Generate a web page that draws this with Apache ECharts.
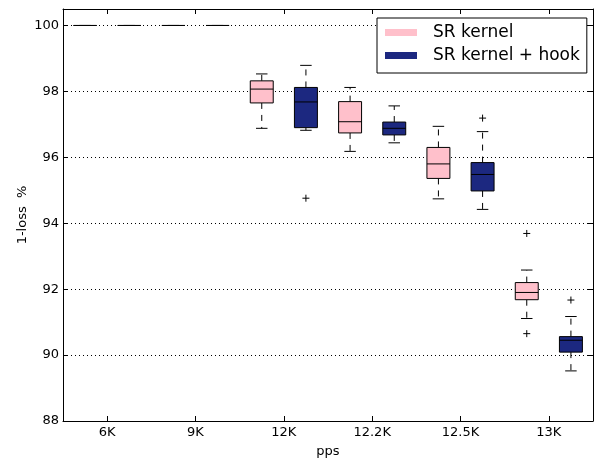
<!DOCTYPE html>
<html>
<head>
<meta charset="utf-8">
<script src="https://cdn.jsdelivr.net/npm/echarts@6/dist/echarts.min.js"></script>
<style>
html,body{margin:0;padding:0;background:#fff;}
#chart{width:595px;height:459px;}
</style>
</head>
<body>
<div id="chart"></div>
<script>
// ---- data (min, Q1, median, Q3, max) ----
const categories = ['6K', '9K', '12K', '12.2K', '12.5K', '13K'];
const srKernel = [
  [100, 100, 100, 100, 100],
  [100, 100, 100, 100, 100],
  [96.88, 97.65, 98.07, 98.32, 98.53],
  [96.18, 96.74, 97.08, 97.69, 98.12],
  [94.74, 95.36, 95.80, 96.30, 96.94],
  [91.11, 91.68, 91.90, 92.20, 92.58]
];
const srKernelHook = [
  [100, 100, 100, 100, 100],
  [100, 100, 100, 100, 100],
  [96.82, 96.90, 97.68, 98.12, 98.79],
  [96.44, 96.68, 96.88, 97.07, 97.56],
  [94.42, 94.98, 95.48, 95.84, 96.78],
  [89.52, 90.09, 90.45, 90.56, 91.17]
];
// outliers: [category index, value]
const srKernelOutliers = [[5, 93.69], [5, 90.65]];
const srKernelHookOutliers = [[2, 94.76], [4, 97.19], [5, 91.67]];
const yTicks = [88, 90, 92, 94, 96, 98, 100];

const PINK = '#ffc0cb';
const NAVY = '#1c2880';
const FONT = 'DejaVu Sans';

function boxRender(sign, fill) {
  return function (params, api) {
    const i = api.value(0);
    const band = api.size([1, 0])[0];
    const cx = api.coord([i, api.value(3)])[0] + sign * band * 0.25;
    const w = band * 0.26;
    const y = k => api.coord([i, api.value(k)])[1];
    const ymn = y(1), yq1 = y(2), ymd = y(3), yq3 = y(4), ymx = y(5);
    const ln = (x1, y1, x2, y2, dash) => ({
      type: 'line',
      shape: { x1, y1, x2, y2 },
      style: { stroke: '#000', lineWidth: 1, lineDash: dash || null }
    });
    return {
      type: 'group',
      children: [
        ln(cx, yq3, cx, ymx, [6, 6]),
        ln(cx, yq1, cx, ymn, [6, 6]),
        ln(cx - w / 4, ymx, cx + w / 4, ymx),
        ln(cx - w / 4, ymn, cx + w / 4, ymn),
        {
          type: 'rect',
          shape: { x: cx - w / 2, y: yq3, width: w, height: Math.max(yq1 - yq3, 0.01) },
          style: { fill: fill, stroke: '#000', lineWidth: 1 }
        },
        ln(cx - w / 2, ymd, cx + w / 2, ymd)
      ]
    };
  };
}

function outlierRender(sign) {
  return function (params, api) {
    const i = api.value(0);
    const band = api.size([1, 0])[0];
    const p = api.coord([i, api.value(1)]);
    const cx = p[0] + sign * band * 0.25;
    const cy = p[1];
    const s = 3.5;
    return {
      type: 'group',
      children: [
        { type: 'line', shape: { x1: cx - s, y1: cy, x2: cx + s, y2: cy }, style: { stroke: '#000', lineWidth: 1 } },
        { type: 'line', shape: { x1: cx, y1: cy - s, x2: cx, y2: cy + s }, style: { stroke: '#000', lineWidth: 1 } }
      ]
    };
  };
}

const chart = echarts.init(document.getElementById('chart'), null, { renderer: 'canvas' });

const axisLineStyle = { show: true, lineStyle: { color: '#000', width: 1 } };

chart.setOption({
  animation: false,
  backgroundColor: '#fff',
  textStyle: { fontFamily: FONT },
  grid: { left: 63, right: 2, top: 9, bottom: 38, containLabel: false, outerBoundsMode: 'none' },
  legend: {
    orient: 'vertical',
    left: 377,
    top: 18,
    backgroundColor: '#fff',
    borderColor: '#000',
    borderWidth: 1,
    borderRadius: 0,
    padding: [6, 7, 9, 8],
    itemWidth: 32,
    itemHeight: 7,
    itemGap: 6,
    icon: 'rect',
    textStyle: { fontSize: 17, lineHeight: 17, color: '#000', fontFamily: FONT, padding: [0, 0, 0, 11] },
    data: [
      { name: 'SR kernel', itemStyle: { color: PINK, borderWidth: 0 } },
      { name: 'SR kernel + hook', itemStyle: { color: NAVY, borderWidth: 0 } }
    ]
  },
  xAxis: [
    {
      type: 'category',
      data: categories,
      boundaryGap: true,
      position: 'bottom',
      axisLine: axisLineStyle,
      axisTick: { show: true, inside: true, alignWithLabel: true, length: 5, lineStyle: { color: '#000' } },
      axisLabel: { fontSize: 13, color: '#000', margin: 5, fontFamily: FONT },
      splitLine: { show: false },
      name: 'pps',
      nameLocation: 'middle',
      nameGap: 24,
      nameMoveOverlap: false,
      nameTextStyle: { fontSize: 13, color: '#000', fontFamily: FONT }
    },
    {
      type: 'category',
      data: categories,
      boundaryGap: true,
      position: 'top',
      axisLine: axisLineStyle,
      axisTick: { show: true, inside: true, alignWithLabel: true, length: 5, lineStyle: { color: '#000' } },
      axisLabel: { show: false },
      splitLine: { show: false }
    }
  ],
  yAxis: [
    {
      type: 'value',
      min: 88,
      max: 100.5,
      interval: 2,
      position: 'left',
      axisLine: axisLineStyle,
      axisTick: { show: true, inside: true, length: 5, lineStyle: { color: '#000' } },
      axisLabel: {
        fontSize: 13, color: '#000', margin: 4, fontFamily: FONT,
        formatter: v => (yTicks.indexOf(v) >= 0 ? String(v) : '')
      },
      splitLine: { show: true, lineStyle: { color: '#000', type: [1, 3], width: 1 } },
      name: '1-loss  %',
      nameLocation: 'middle',
      nameGap: 34,
      nameMoveOverlap: false,
      nameTextStyle: { fontSize: 13, color: '#000', fontFamily: FONT }
    },
    {
      type: 'value',
      min: 88,
      max: 100.5,
      interval: 2,
      position: 'right',
      axisLine: axisLineStyle,
      axisTick: { show: true, inside: true, length: 5, lineStyle: { color: '#000' } },
      axisLabel: { show: false },
      splitLine: { show: false }
    }
  ],
  series: [
    {
      name: 'SR kernel',
      type: 'custom',
      xAxisIndex: 0, yAxisIndex: 0,
      itemStyle: { color: PINK },
      renderItem: boxRender(-1, PINK),
      encode: { x: 0, y: [1, 2, 3, 4, 5] },
      data: srKernel.map((d, i) => [i].concat(d)),
      z: 3
    },
    {
      name: 'SR kernel + hook',
      type: 'custom',
      xAxisIndex: 0, yAxisIndex: 0,
      itemStyle: { color: NAVY },
      renderItem: boxRender(1, NAVY),
      encode: { x: 0, y: [1, 2, 3, 4, 5] },
      data: srKernelHook.map((d, i) => [i].concat(d)),
      z: 3
    },
    {
      name: 'SR kernel outliers',
      type: 'custom',
      renderItem: outlierRender(-1),
      encode: { x: 0, y: 1 },
      data: srKernelOutliers,
      z: 3
    },
    {
      name: 'SR kernel + hook outliers',
      type: 'custom',
      renderItem: outlierRender(1),
      encode: { x: 0, y: 1 },
      data: srKernelHookOutliers,
      z: 3
    }
  ]
});
</script>
</body>
</html>
